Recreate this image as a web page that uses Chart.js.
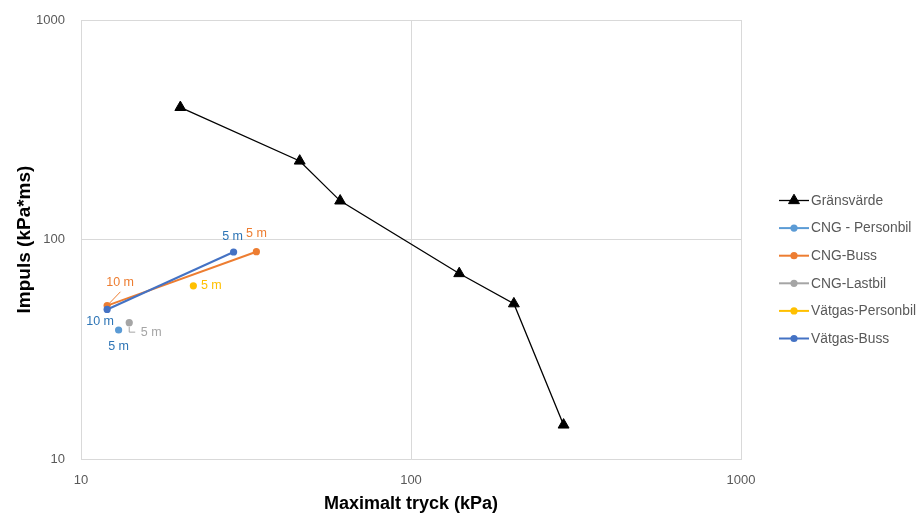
<!DOCTYPE html>
<html><head><meta charset="utf-8">
<script src="https://cdn.jsdelivr.net/npm/chart.js@4.4.1/dist/chart.umd.min.js"></script>
<style>html,body{margin:0;padding:0;background:#fff;}#wrap{width:919px;height:515px;}</style>
</head><body><div id="wrap"><canvas id="c" width="919" height="515"></canvas></div>
<script>
const xTickValues = [10, 100, 1000];
const yTickValues = [10, 100, 1000];
const seriesNames = ['Gränsvärde', 'CNG - Personbil', 'CNG-Buss', 'CNG-Lastbil', 'Vätgas-Personbil', 'Vätgas-Buss'];
const gransX = [20, 46, 61, 140, 205, 290];
const gransY = [400, 228, 150, 70, 51, 14.3];
const cngPersonbilX = [13];   const cngPersonbilY = [38.7];  const cngPersonbilLabels = ['5 m'];
const cngBussX = [34, 12];    const cngBussY = [88, 50];     const cngBussLabels = ['5 m', '10 m'];
const cngLastbilX = [14];     const cngLastbilY = [41.8];    const cngLastbilLabels = ['5 m'];
const vatgasPersonbilX = [21.9]; const vatgasPersonbilY = [61.5]; const vatgasPersonbilLabels = ['5 m'];
const vatgasBussX = [29, 12]; const vatgasBussY = [87.7, 48]; const vatgasBussLabels = ['5 m', '10 m'];

const colors = ['#000000', '#5B9BD5', '#ED7D31', '#A5A5A5', '#FFC000', '#4472C4'];
const FONT = "'Liberation Sans', Arial, sans-serif";

function pts(xs, ys) { return xs.map((x, i) => ({x: x, y: ys[i]})); }

const seriesX = [gransX, cngPersonbilX, cngBussX, cngLastbilX, vatgasPersonbilX, vatgasBussX];
const seriesY = [gransY, cngPersonbilY, cngBussY, cngLastbilY, vatgasPersonbilY, vatgasBussY];
const seriesLabels = [null, cngPersonbilLabels, cngBussLabels, cngLastbilLabels, vatgasPersonbilLabels, vatgasBussLabels];

const datasets = seriesNames.map((name, i) => ({
  label: name,
  data: pts(seriesX[i], seriesY[i]),
  showLine: true,
  borderColor: colors[i],
  backgroundColor: colors[i],
  borderWidth: i === 0 ? 1.3 : 2,
  pointStyle: i === 0 ? 'triangle' : 'circle',
  pointRadius: i === 0 ? 6.3 : 3.6,
  pointBorderWidth: i === 0 ? 1 : 0,
  pointHoverRadius: i === 0 ? 6.3 : 3.6,
  order: 5 - i,
  clip: false
}));

// label placement (pixel offsets from the point)
const labelLayout = {
  1: [{dx: 0, dy: 17, color: '#2E75B6'}],
  2: [{dx: 0, dy: -18, color: '#ED7D31'},
      {dx: 13, dy: -23, color: '#ED7D31', leader: [[13.3, -13.8], [1.8, -1.8]]}],
  3: [{dx: 22, dy: 10, color: '#A5A5A5', leader: [[0, 4], [0, 9.5], [6, 9.5]]}],
  4: [{dx: 18, dy: 0, color: '#FFC000'}],
  5: [{dx: -1, dy: -15, color: '#2E75B6'},
      {dx: -7, dy: 12, color: '#2E75B6'}]
};

const extras = {
  id: 'extras',
  afterDatasetsDraw(chart) {
    const ctx = chart.ctx;
    const xs = chart.scales.x, ys = chart.scales.y;
    ctx.save();
    ctx.font = '12.5px ' + FONT;
    ctx.textAlign = 'center';
    ctx.textBaseline = 'middle';
    Object.keys(labelLayout).forEach(k => {
      const i = +k;
      labelLayout[k].forEach((L, j) => {
        const px = xs.getPixelForValue(seriesX[i][j]);
        const py = ys.getPixelForValue(seriesY[i][j]);
        if (L.leader) {
          ctx.strokeStyle = L.color; ctx.lineWidth = 1;
          ctx.beginPath();
          L.leader.forEach((p, n) => { if (n === 0) ctx.moveTo(px + p[0], py + p[1]); else ctx.lineTo(px + p[0], py + p[1]); });
          ctx.stroke();
        }
        ctx.fillStyle = L.color;
        ctx.fillText(seriesLabels[i][j], px + L.dx, py + L.dy);
      });
    });
    // legend
    const lx0 = 779, lx1 = 809, ty = 200.5, step = 27.6;
    ctx.font = '13.8px ' + FONT;
    ctx.textAlign = 'left';
    chart.data.datasets.forEach((ds, i) => {
      const y = ty + i * step;
      ctx.strokeStyle = ds.borderColor; ctx.lineWidth = ds.borderWidth;
      ctx.beginPath(); ctx.moveTo(lx0, y); ctx.lineTo(lx1, y); ctx.stroke();
      ctx.fillStyle = ds.backgroundColor; ctx.strokeStyle = ds.borderColor; ctx.lineWidth = 1;
      Chart.helpers.drawPoint(ctx, {pointStyle: ds.pointStyle, radius: ds.pointRadius, borderWidth: ds.pointBorderWidth}, (lx0 + lx1) / 2, y);
      ctx.fillStyle = '#595959';
      ctx.fillText(ds.label, 811, y + 0.5);
    });
    ctx.restore();
  }
};

new Chart(document.getElementById('c'), {
  type: 'scatter',
  data: {datasets: datasets},
  plugins: [extras],
  options: {
    responsive: false,
    devicePixelRatio: 1,
    animation: false,
    layout: {padding: {top: 20, right: 178, left: 0, bottom: 0}},
    plugins: {legend: {display: false}, tooltip: {enabled: false}},
    scales: {
      x: {
        type: 'logarithmic', min: 10, max: 1000, position: 'bottom',
        afterBuildTicks: s => { s.ticks = xTickValues.map(v => ({value: v})); },
        afterFit: s => { s.height = 56; s.paddingLeft = 0; s.paddingRight = 0; },
        grid: {color: '#D9D9D9', lineWidth: 1, drawTicks: false},
        border: {color: '#D9D9D9'},
        ticks: {padding: 14, color: '#595959', font: {family: FONT, size: 13}, callback: v => String(v), maxRotation: 0, autoSkip: false},
        title: {display: true, text: 'Maximalt tryck (kPa)', color: '#000000', font: {family: FONT, size: 18, weight: 'bold'}, padding: {top: 0, bottom: 0}}
      },
      y: {
        type: 'logarithmic', min: 10, max: 1000, position: 'left',
        afterBuildTicks: s => { s.ticks = yTickValues.map(v => ({value: v})); },
        afterFit: s => { s.width = 81; s.paddingTop = 0; s.paddingBottom = 0; },
        grid: {color: '#D9D9D9', lineWidth: 1, drawTicks: false},
        border: {color: '#D9D9D9'},
        ticks: {padding: 16, color: '#595959', font: {family: FONT, size: 13}, callback: v => String(v), autoSkip: false},
        title: {display: true, text: 'Impuls (kPa*ms)', color: '#000000', font: {family: FONT, size: 19, weight: 'bold'}, padding: {top: 13, bottom: 0}}
      }
    }
  }
});
</script></body></html>
